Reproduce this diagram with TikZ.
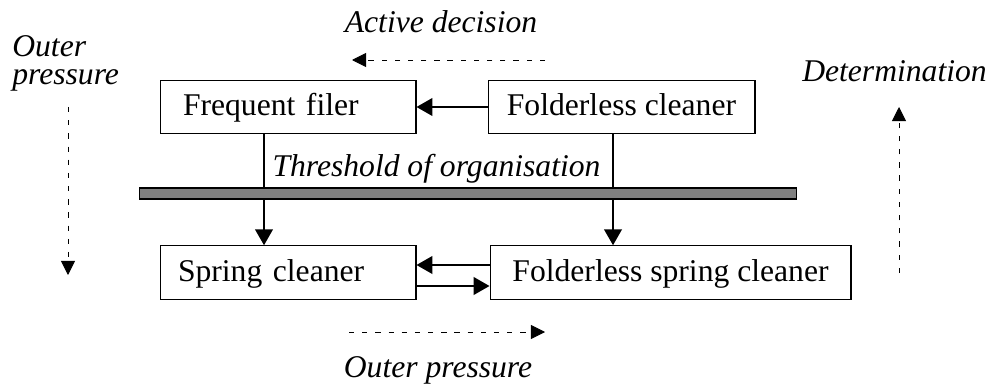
\documentclass[tikz,border=0pt]{standalone}
\usepackage{fontspec}
\setmainfont{Liberation Serif}
\usepackage{tikz}
\usetikzlibrary{arrows.meta, positioning}

\newcommand{\figsize}{\fontsize{18}{16.5}\selectfont}
\tikzset{
    box/.style={draw, line width=0.6pt, minimum height=1.07cm, inner sep=0pt, text height=14pt, text depth=3.8pt},
    arr/.style={line width=1.1pt, -{Triangle[length=9pt,width=10pt]}},
    stem/.style={line width=1.1pt},
    hint/.style={line width=0.5pt, dash pattern=on 3pt off 4.5pt, -{Triangle[length=8pt,width=8pt]}},
    lbl/.style={font=\figsize\itshape, inner sep=0pt}
}

\begin{document}
\begin{tikzpicture}[x=0.02cm, y=-0.02cm, font=\figsize]
\useasboundingbox (0,0) rectangle (990,385);
% Filing types
\node[box, minimum width=5.12cm, text width=4.2cm, align=left] (ff) at (288,107) {Frequent filer};
\node[box, minimum width=5.34cm] (fc) at (621.5,107) {Folderless cleaner};
\node[box, minimum width=5.12cm, text width=4.4cm, align=left] (sc) at (288,272.5) {Spring cleaner};
\node[box, minimum width=7.22cm] (fsc) at (670.5,272.5) {Folderless spring cleaner};
% Threshold bar
\node[draw, fill=gray, line width=0.6pt, minimum width=13.16cm, minimum height=0.22cm, inner sep=0pt] (bar) at (468,193.5) {};
\node[lbl, anchor=base] (thr) at (436.5,176) {Threshold of organisation};
% Transitions
\coordinate (ffout) at ([xshift=-0.48cm]ff.south);
\coordinate (fcout) at ([xshift=-0.17cm]fc.south);
\draw[arr] (fc.west) -- (ff.east);
\draw[stem] (ffout) -- (ffout |- bar.north);
\draw[arr] (ffout |- bar.south) -- (ffout |- sc.north);
\draw[stem] (fcout) -- (fcout |- bar.north);
\draw[arr] (fcout |- bar.south) -- (fcout |- fsc.north);
\draw[arr] ([yshift=0.15cm]fsc.west) -- ([yshift=0.15cm]sc.east);
\draw[arr] ([yshift=-0.27cm]sc.east) -- ([yshift=-0.27cm]fsc.west);
% Forces
\node[lbl, anchor=base] (actlbl) at (441,33) {Active decision};
\coordinate (act0) at (545,60);
\coordinate (act1) at (352,60);
\draw[hint] (act0) -- (act1);
\node[lbl, anchor=base] (outlbl) at (438,377) {Outer pressure};
\coordinate (out0) at (349,332);
\coordinate (out1) at (545,332);
\draw[hint] (out0) -- (out1);
\node[lbl, align=left, anchor=base west] (outleft) at (12,85) {Outer\\pressure};
\coordinate (left0) at (68,107);
\coordinate (left1) at (68,275);
\draw[hint] (left0) -- (left1);
\node[lbl, anchor=base] (detlbl) at (894.5,82) {Determination};
\coordinate (det0) at (899,273);
\coordinate (det1) at (899,107);
\draw[hint] (det0) -- (det1);
\end{tikzpicture}
\end{document}
